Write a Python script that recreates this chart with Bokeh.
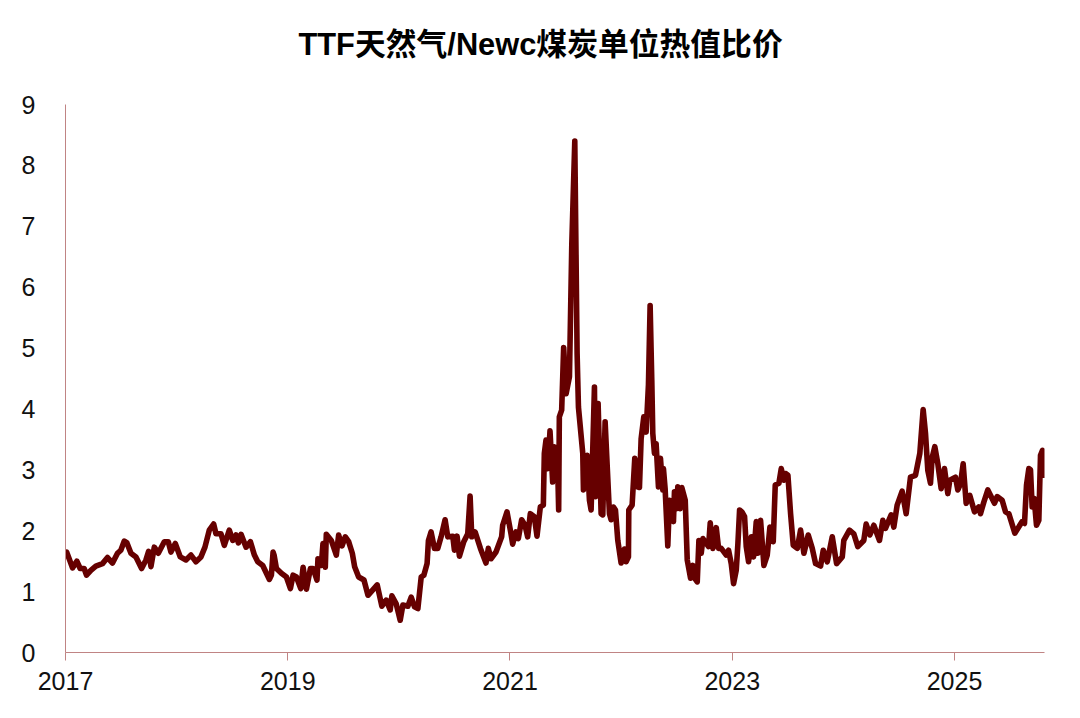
from bokeh.plotting import figure
from bokeh.models import FixedTicker, Range1d, Title
from bokeh.embed import file_html
from bokeh.resources import INLINE

TITLE = "TTF天然气/Newc煤炭单位热值比价"
x_ticks = [2017, 2019, 2021, 2023, 2025]
y_ticks = [0, 1, 2, 3, 4, 5, 6, 7, 8, 9]

years_2017_2018 = [2017.01,2017.033,2017.063,2017.102,2017.132,2017.168,2017.189,2017.228,2017.273,2017.333,2017.378,2017.423,2017.468,2017.498,2017.529,2017.553,2017.589,2017.634,2017.685,2017.724,2017.748,2017.769,2017.799,2017.835,2017.889,2017.925,2017.949,2017.988,2018.033,2018.084,2018.129,2018.174,2018.219,2018.255,2018.294,2018.333,2018.354,2018.399,2018.429,2018.474,2018.505,2018.535,2018.556,2018.58,2018.625,2018.664,2018.7,2018.73,2018.775,2018.835,2018.853,2018.868,2018.877,2018.898,2018.943,2018.988]
vals_2017_2018 = [1.65,1.54,1.39,1.50,1.38,1.38,1.27,1.35,1.42,1.46,1.56,1.47,1.63,1.68,1.83,1.80,1.63,1.57,1.38,1.52,1.66,1.41,1.73,1.63,1.82,1.82,1.65,1.79,1.57,1.52,1.60,1.49,1.57,1.73,2.01,2.11,1.95,1.95,1.76,2.01,1.84,1.93,1.80,1.94,1.73,1.82,1.60,1.49,1.43,1.20,1.27,1.65,1.60,1.38,1.30,1.24]

years_2019_2020 = [2019.024,2019.048,2019.078,2019.117,2019.138,2019.168,2019.204,2019.228,2019.263,2019.272,2019.302,2019.317,2019.338,2019.347,2019.392,2019.437,2019.458,2019.488,2019.518,2019.548,2019.581,2019.602,2019.638,2019.686,2019.722,2019.805,2019.847,2019.886,2019.922,2019.937,2019.976,2020.012,2020.036,2020.081,2020.111,2020.141,2020.171,2020.201,2020.225,2020.254,2020.266,2020.29,2020.32,2020.35,2020.38,2020.416,2020.44,2020.485,2020.5,2020.524,2020.545,2020.584,2020.62,2020.641,2020.656,2020.686,2020.734,2020.784,2020.805,2020.829,2020.874,2020.925,2020.934,2020.973]
vals_2019_2020 = [1.05,1.27,1.24,1.05,1.40,1.04,1.38,1.38,1.19,1.54,1.43,1.79,1.40,1.94,1.84,1.60,1.93,1.75,1.90,1.82,1.63,1.41,1.24,1.19,0.94,1.11,0.76,0.86,0.70,0.93,0.80,0.53,0.78,0.76,0.91,0.75,0.72,1.24,1.27,1.46,1.84,1.98,1.71,1.71,1.90,2.18,1.90,1.91,1.68,1.91,1.58,1.82,1.95,2.57,1.90,1.98,1.71,1.47,1.71,1.54,1.65,1.90,2.09,2.31]

years_2021_2022 = [2021.009,2021.024,2021.054,2021.075,2021.105,2021.135,2021.159,2021.183,2021.219,2021.243,2021.273,2021.3,2021.309,2021.324,2021.339,2021.36,2021.384,2021.399,2021.429,2021.438,2021.444,2021.465,2021.483,2021.505,2021.535,2021.556,2021.583,2021.604,2021.616,2021.655,2021.661,2021.694,2021.715,2021.73,2021.76,2021.769,2021.793,2021.82,2021.835,2021.856,2021.895,2021.91,2021.931,2021.949,2021.97,2022.0,2022.03,2022.045,2022.066,2022.069,2022.099,2022.123,2022.144,2022.165,2022.18,2022.204,2022.225,2022.246,2022.261,2022.276,2022.285,2022.3,2022.315,2022.336,2022.354,2022.375,2022.381,2022.396,2022.42,2022.435,2022.471,2022.48,2022.498,2022.51,2022.531,2022.546,2022.577,2022.595,2022.625,2022.646,2022.661,2022.685,2022.7,2022.721,2022.736,2022.787,2022.802,2022.826,2022.856,2022.877,2022.901,2022.946,2022.967,2022.991]
vals_2021_2022 = [1.95,1.78,1.98,1.87,2.18,2.09,1.90,2.28,2.23,1.91,2.39,2.42,3.27,3.49,3.02,3.64,2.80,3.38,3.05,2.34,3.87,3.98,5.01,4.25,4.53,6.69,8.40,4.91,4.03,3.27,2.67,3.24,2.50,2.34,4.36,2.56,4.09,2.28,2.26,3.79,2.28,2.18,2.39,2.34,1.84,1.47,1.70,1.49,1.57,2.34,2.42,3.19,2.72,2.71,3.51,3.87,3.62,4.40,5.70,4.47,3.60,3.27,3.43,2.72,3.19,2.67,3.02,2.69,1.75,2.50,2.15,2.64,2.36,2.72,2.36,2.71,2.50,1.52,1.22,1.43,1.22,1.16,1.84,1.63,1.87,1.74,2.13,1.71,2.05,1.71,1.71,1.60,1.68,1.46]

years_2023_2025 = [2023.012,2023.036,2023.051,2023.066,2023.087,2023.111,2023.126,2023.147,2023.171,2023.192,2023.216,2023.231,2023.255,2023.285,2023.315,2023.339,2023.369,2023.387,2023.42,2023.441,2023.465,2023.48,2023.501,2023.525,2023.549,2023.585,2023.615,2023.645,2023.684,2023.72,2023.75,2023.795,2023.819,2023.855,2023.9,2023.939,2023.99,2024.004,2024.055,2024.094,2024.13,2024.184,2024.205,2024.238,2024.274,2024.325,2024.355,2024.379,2024.43,2024.454,2024.484,2024.529,2024.565,2024.604,2024.649,2024.688,2024.718,2024.739,2024.76,2024.784,2024.799,2024.823,2024.85,2024.88,2024.91,2024.94,2024.958,2025.009,2025.03,2025.054,2025.078,2025.105,2025.138,2025.18,2025.219,2025.234,2025.264,2025.3,2025.36,2025.384,2025.429,2025.459,2025.489,2025.543,2025.609,2025.63,2025.648,2025.669,2025.684,2025.699,2025.717,2025.738,2025.759,2025.774,2025.792,2025.804,2025.816]
vals_2023_2025 = [1.13,1.35,1.79,2.34,2.31,2.23,1.74,1.49,1.90,1.57,2.15,1.63,2.17,1.43,1.60,2.06,1.82,2.75,2.78,3.02,2.83,2.94,2.91,2.28,1.76,1.71,2.01,1.63,1.93,1.71,1.46,1.42,1.68,1.49,1.90,1.46,1.57,1.84,2.01,1.95,1.74,1.84,2.11,1.93,2.09,1.84,2.17,2.04,2.26,2.06,2.42,2.65,2.28,2.88,2.91,3.27,3.99,3.60,2.99,2.78,3.20,3.38,3.10,2.69,3.02,2.61,2.83,2.88,2.67,2.77,3.10,2.45,2.58,2.31,2.39,2.28,2.47,2.67,2.45,2.56,2.50,2.31,2.28,1.96,2.15,2.12,2.75,3.02,3.00,2.39,2.53,2.09,2.17,3.24,3.32,2.91,3.10]

years = years_2017_2018 + years_2019_2020 + years_2021_2022 + years_2023_2025
vals = vals_2017_2018 + vals_2019_2020 + vals_2021_2022 + vals_2023_2025

FONT = "Liberation Sans"
AXIS = "#c08484"

p = figure(width=1072, height=710, output_backend="svg", toolbar_location=None,
           x_range=Range1d(2017, 2025.81), y_range=Range1d(0, 9),
           min_border_left=65, min_border_right=28, min_border_top=104, min_border_bottom=58,
           background_fill_color="white", border_fill_color="white")
p.outline_line_color = None
p.grid.visible = False

p.line(years, vals, line_color="#660000", line_width=5.6, line_join="round", line_cap="round")

p.xaxis.ticker = FixedTicker(ticks=x_ticks)
p.yaxis.ticker = FixedTicker(ticks=y_ticks)
p.xaxis.formatter.use_scientific = False
for ax in (p.xaxis[0], p.yaxis[0]):
    ax.axis_line_color = AXIS
    ax.axis_line_width = 1
    ax.minor_tick_line_color = None
    ax.major_tick_line_color = AXIS
    ax.major_label_text_font = FONT
    ax.major_label_text_font_size = "25px"
    ax.major_label_text_color = "#111111"
p.xaxis.major_tick_in = 0
p.xaxis.major_tick_out = 8
p.xaxis.major_label_standoff = 11
p.xaxis.major_label_overrides = {t: str(t) for t in x_ticks}
p.yaxis.major_tick_line_color = None
p.yaxis.major_tick_in = 0
p.yaxis.major_tick_out = 0
p.yaxis.major_label_standoff = 30

# An invisible spacer panel sits next to the frame and lifts the real title above it.
p.add_layout(Title(text=" ", text_font_size="1px", standoff=18), "above")
p.add_layout(Title(text=TITLE, align="left", offset=233, standoff=44,
                   text_font=FONT + ", 'Noto Sans CJK SC'", text_font_size="30.8px",
                   text_font_style="bold", text_color="#000000"), "above")

open("out.html", "w").write(file_html(p, INLINE))
